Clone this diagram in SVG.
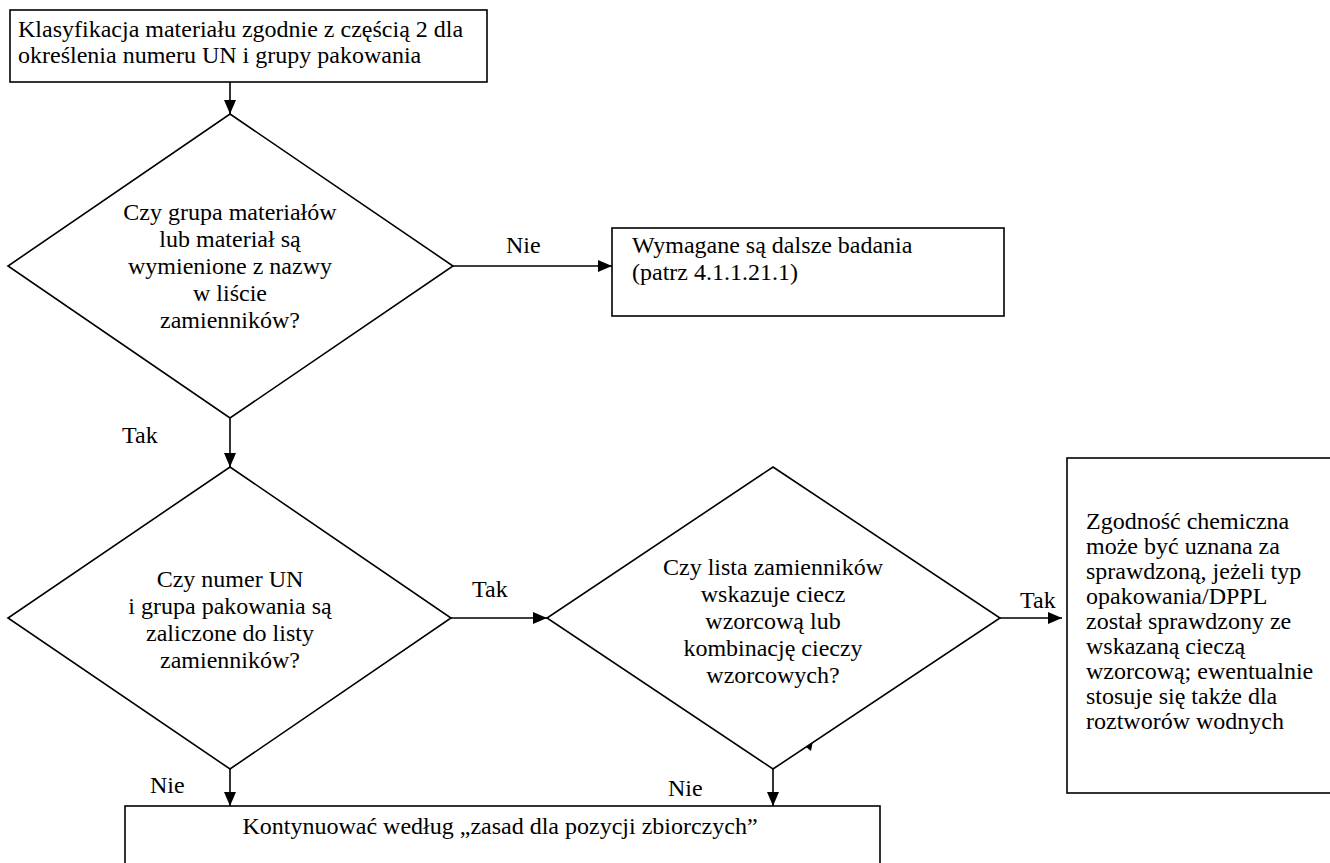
<svg xmlns="http://www.w3.org/2000/svg" width="1330" height="863" viewBox="0 0 1330 863">
<defs>
<style>
.box{fill:#fff;stroke:#000;stroke-width:1.6}
.t{font-family:"Liberation Serif","Times New Roman",serif;font-size:24px;fill:#000}
.c{text-anchor:middle}
.ln{stroke:#000;stroke-width:1.6;fill:none}
</style>
<marker id="ah" markerUnits="userSpaceOnUse" markerWidth="14" markerHeight="12" refX="14" refY="6" orient="auto">
<path d="M0,0 L14,6 L0,12 Z" fill="#000"/>
</marker>
</defs>
<rect width="1330" height="863" fill="#fff"/>
<g id="connectors">
<line class="ln" x1="230" y1="82" x2="230" y2="114" marker-end="url(#ah)"/>
<line class="ln" x1="453" y1="266" x2="612" y2="266" marker-end="url(#ah)"/>
<line class="ln" x1="230" y1="418" x2="230" y2="467" marker-end="url(#ah)"/>
<line class="ln" x1="451" y1="618" x2="547" y2="618" marker-end="url(#ah)"/>
<line class="ln" x1="1000" y1="618" x2="1062" y2="618" marker-end="url(#ah)"/>
<line class="ln" x1="230" y1="769" x2="230" y2="806" marker-end="url(#ah)"/>
<line class="ln" x1="773" y1="769" x2="773" y2="806" marker-end="url(#ah)"/>
<path d="M806,747 L813,741 L811,751 Z" fill="#000"/>
<text class="t" x="506" y="253">Nie</text>
<text class="t" x="122" y="443">Tak</text>
<text class="t" x="472" y="597">Tak</text>
<text class="t" x="1020" y="608">Tak</text>
<text class="t" x="150" y="793">Nie</text>
<text class="t" x="668" y="796">Nie</text>
</g>
<g id="n1">
<rect class="box" x="10" y="10" width="477" height="72"/>
<text class="t" x="18" y="37">Klasyfikacja materiału zgodnie z częścią 2 dla</text>
<text class="t" x="18" y="63">określenia numeru UN i grupy pakowania</text>
</g>
<g id="d1">
<polygon class="box" points="230,114 453,266 230,418 8,266"/>
<text class="t c" x="230" y="220">Czy grupa materiałów</text>
<text class="t c" x="230" y="247">lub materiał są</text>
<text class="t c" x="230" y="274">wymienione z nazwy</text>
<text class="t c" x="230" y="301">w liście</text>
<text class="t c" x="230" y="328">zamienników?</text>
</g>
<g id="n2">
<rect class="box" x="612" y="228" width="392" height="88"/>
<text class="t" x="632" y="253">Wymagane są dalsze badania</text>
<text class="t" x="632" y="280">(patrz 4.1.1.21.1)</text>
</g>
<g id="d2">
<polygon class="box" points="230,467 451,618 230,769 8,618"/>
<text class="t c" x="230" y="587">Czy numer UN</text>
<text class="t c" x="230" y="614">i grupa pakowania są</text>
<text class="t c" x="230" y="641">zaliczone do listy</text>
<text class="t c" x="230" y="668">zamienników?</text>
</g>
<g id="d3">
<polygon class="box" points="773,467 1000,618 773,769 547,618"/>
<text class="t c" x="773" y="575">Czy lista zamienników</text>
<text class="t c" x="773" y="602">wskazuje ciecz</text>
<text class="t c" x="773" y="629">wzorcową lub</text>
<text class="t c" x="773" y="656">kombinację cieczy</text>
<text class="t c" x="773" y="683">wzorcowych?</text>
</g>
<g id="n3">
<rect class="box" x="1067" y="458" width="270" height="335"/>
<text class="t" x="1086" y="529">Zgodność chemiczna</text>
<text class="t" x="1086" y="554">może być uznana za</text>
<text class="t" x="1086" y="579">sprawdzoną, jeżeli typ</text>
<text class="t" x="1086" y="604">opakowania/DPPL</text>
<text class="t" x="1086" y="629">został sprawdzony ze</text>
<text class="t" x="1086" y="654">wskazaną cieczą</text>
<text class="t" x="1086" y="679">wzorcową; ewentualnie</text>
<text class="t" x="1086" y="704">stosuje się także dla</text>
<text class="t" x="1086" y="729">roztworów wodnych</text>
</g>
<g id="n4">
<rect class="box" x="125" y="806" width="755" height="80"/>
<text class="t c" x="500" y="834">Kontynuować według „zasad dla pozycji zbiorczych”</text>
</g>
</svg>
